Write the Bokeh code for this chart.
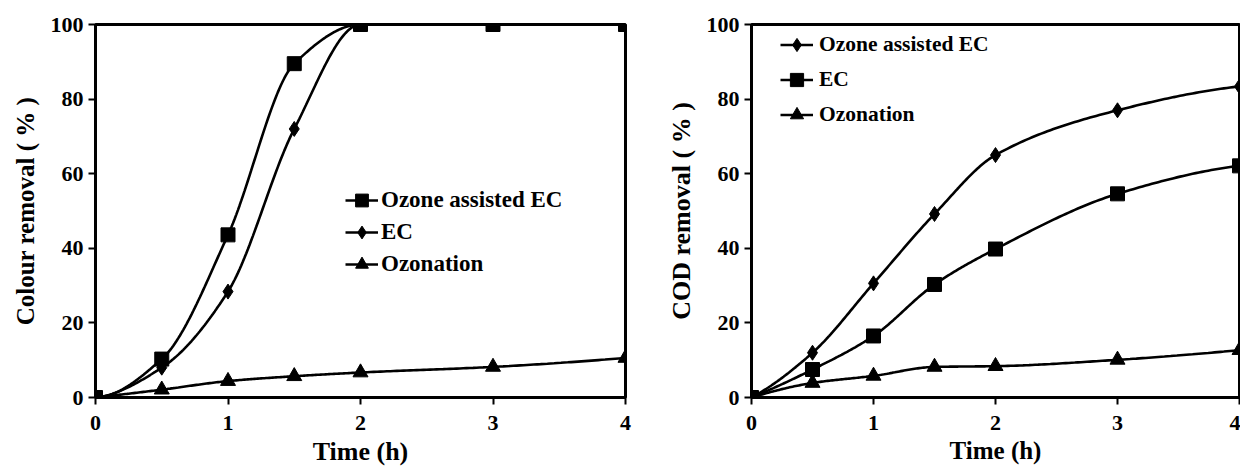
import numpy as np
from bokeh.plotting import figure
from bokeh.layouts import row
from bokeh.models import Legend, LegendItem
from bokeh.embed import file_html
from bokeh.resources import INLINE

# ---------------- data ----------------
time_h = [0, 0.5, 1, 1.5, 2, 3, 4]

colour_ozone_ec = [0, 10.3, 43.6, 89.5, 100, 100, 100]
colour_ec = [0, 8.0, 28.4, 72.0, 100, 100, 100]
colour_ozonation = [0, 2.1, 4.4, 5.7, 6.7, 8.2, 10.6]

cod_ozone_ec = [0, 12.0, 30.6, 49.2, 65.0, 77.0, 83.4]
cod_ec = [0, 7.5, 16.5, 30.3, 39.8, 54.6, 62.1]
cod_ozonation = [0, 3.9, 5.8, 8.2, 8.4, 10.1, 12.7]

x_ticks = [0, 1, 2, 3, 4]
y_ticks = [0, 20, 40, 60, 80, 100]

label_ozone_ec = "Ozone assisted EC"
label_ec = "EC"
label_ozonation = "Ozonation"

FONT = "Liberation Serif"


def smooth(x, y, n=40):
    """Shape-preserving cubic (PCHIP) curve through the data points, for drawing."""
    x = np.asarray(x, float)
    y = np.asarray(y, float)
    h = np.diff(x)
    d = np.diff(y) / h
    m = np.zeros_like(y)
    for k in range(1, len(x) - 1):
        if d[k - 1] * d[k] <= 0:
            m[k] = 0.0
        else:
            w1 = 2 * h[k] + h[k - 1]
            w2 = h[k] + 2 * h[k - 1]
            m[k] = (w1 + w2) / (w1 / d[k - 1] + w2 / d[k])

    def end(h0, h1, d0, d1):
        s = ((2 * h0 + h1) * d0 - h0 * d1) / (h0 + h1)
        if np.sign(s) != np.sign(d0):
            s = 0.0
        elif np.sign(d0) != np.sign(d1) and abs(s) > abs(3 * d0):
            s = 3 * d0
        return s

    m[0] = end(h[0], h[1], d[0], d[1])
    m[-1] = end(h[-1], h[-2], d[-1], d[-2])
    xs, ys = [], []
    for k in range(len(x) - 1):
        t = np.linspace(0, 1, n, endpoint=(k == len(x) - 2))
        h00 = 2 * t**3 - 3 * t**2 + 1
        h10 = t**3 - 2 * t**2 + t
        h01 = -2 * t**3 + 3 * t**2
        h11 = t**3 - t**2
        xs.extend(x[k] + t * h[k])
        ys.extend(h00 * y[k] + h10 * h[k] * m[k] + h01 * y[k + 1] + h11 * h[k] * m[k + 1])
    return xs, ys


def make_fig(width, border_left, border_right, ylabel, ylabel_size, ylabel_standoff, xlabel_size):
    p = figure(width=width, height=468, x_range=(0, 4), y_range=(0, 100),
               output_backend="svg", toolbar_location=None,
               min_border_left=border_left, min_border_right=border_right,
               min_border_top=24, min_border_bottom=70)
    p.xgrid.visible = False
    p.ygrid.visible = False
    p.outline_line_color = "black"
    p.outline_line_width = 3
    p.outline_line_alpha = 1
    p.background_fill_color = "white"
    p.border_fill_color = "white"
    for ax in (p.xaxis[0], p.yaxis[0]):
        ax.axis_line_width = 3
        ax.axis_line_color = "black"
        ax.major_tick_line_width = 2
        ax.major_tick_line_color = "black"
        ax.major_tick_out = 7
        ax.major_tick_in = 0
        ax.minor_tick_out = 0
        ax.minor_tick_in = 0
        ax.major_label_text_font = FONT
        ax.major_label_text_font_style = "bold"
        ax.major_label_text_font_size = "22px"
        ax.major_label_text_color = "black"
        ax.axis_label_text_font = FONT
        ax.axis_label_text_font_style = "bold"
        ax.axis_label_text_color = "black"
    p.xaxis.ticker = x_ticks
    p.yaxis.ticker = y_ticks
    p.xaxis.major_label_standoff = 11
    p.yaxis.major_label_standoff = 5
    p.xaxis.axis_label = "Time (h)"
    p.xaxis.axis_label_text_font_size = xlabel_size
    p.xaxis.axis_label_standoff = 4
    p.yaxis.axis_label = ylabel
    p.yaxis.axis_label_text_font_size = ylabel_size
    p.yaxis.axis_label_standoff = ylabel_standoff
    return p


def add_series(p, y, marker, size):
    xs, ys = smooth(time_h, y)
    l = p.line(xs, ys, line_color="black", line_width=2.6)
    s = p.scatter(time_h, y, marker=marker, size=size,
                  fill_color="black", line_color="black")
    return [l, s]


def style_legend(p, items, loc, row_h, standoff, font_size):
    lg = Legend(items=items, location=loc)
    lg.background_fill_alpha = 0
    lg.border_line_alpha = 0
    lg.padding = 0
    lg.margin = 0
    lg.spacing = 0
    lg.glyph_width = 33
    lg.glyph_height = row_h
    lg.label_height = row_h
    lg.label_standoff = standoff
    lg.label_text_font = FONT
    lg.label_text_font_style = "bold"
    lg.label_text_font_size = font_size
    lg.label_text_color = "black"
    lg.label_text_baseline = "middle"
    p.add_layout(lg)


# ---------------- left: colour removal ----------------
p1 = make_fig(648, 95, 23, "Colour removal ( % )", "25px", 9, "26px")
r_ec1 = add_series(p1, colour_ec, "diamond", 15)
r_oz_ec1 = add_series(p1, colour_ozone_ec, "square", 14)
r_oz1 = add_series(p1, colour_ozonation, "triangle", 15)
style_legend(p1, [LegendItem(label=label_ozone_ec, renderers=r_oz_ec1),
                  LegendItem(label=label_ec, renderers=r_ec1),
                  LegendItem(label=label_ozonation, renderers=r_oz1)],
             (250, 117), 32, 3, "23px")

# ---------------- right: COD removal ----------------
p2 = make_fig(592, 103, 1, "COD removal ( % )", "26px", 8, "25px")
r_oz_ec2 = add_series(p2, cod_ozone_ec, "diamond", 15)
r_ec2 = add_series(p2, cod_ec, "square", 14)
r_oz2 = add_series(p2, cod_ozonation, "triangle", 15)
style_legend(p2, [LegendItem(label=label_ozone_ec, renderers=r_oz_ec2),
                  LegendItem(label=label_ec, renderers=r_ec2),
                  LegendItem(label=label_ozonation, renderers=r_oz2)],
             (29, 265), 35, 6, "21.5px")

layout = row(p1, p2)
open("out.html", "w").write(file_html(layout, INLINE))
